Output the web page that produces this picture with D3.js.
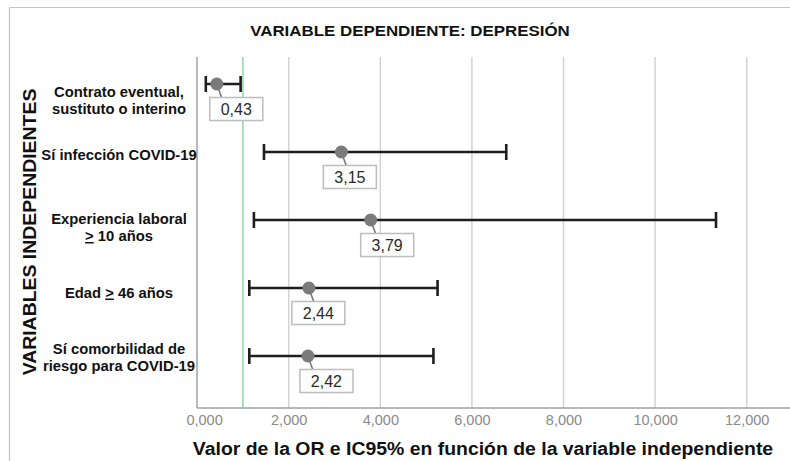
<!DOCTYPE html>
<html><head><meta charset="utf-8">
<script src="https://cdn.jsdelivr.net/npm/d3@7"></script>
<style>
html,body{margin:0;padding:0;background:#fff;}
svg{display:block;font-family:"Liberation Sans",Arial,sans-serif;}
</style></head>
<body><svg id="chart" width="790" height="461"></svg>
<script>
// ---- data ----
const categories = ["Contrato eventual, sustituto o interino","Sí infección COVID-19","Experiencia laboral ≥ 10 años","Edad ≥ 46 años","Sí comorbilidad de riesgo para COVID-19"];
const labelLines = [["Contrato eventual,","sustituto o interino"],["Sí infección COVID-19"],["Experiencia laboral","_> 10 años"],["Edad _> 46 años"],["Sí comorbilidad de","riesgo para COVID-19"]];
const orValues = [0.43, 3.15, 3.79, 2.44, 2.42];
const ciLower = [0.19, 1.46, 1.24, 1.14, 1.14];
const ciUpper = [0.95, 6.75, 11.33, 5.25, 5.16];
const xTicks = [0, 2, 4, 6, 8, 10, 12];
const refValue = 1;
const title = "VARIABLE DEPENDIENTE: DEPRESIÓN";
const xTitle = "Valor de la OR e IC95% en función de la variable independiente";
const yTitle = "VARIABLES INDEPENDIENTES";
// layout nudges (pixels)
const labelShift = [16, 2, 7, 4, 1];
const boxNudge = [-7, -18, -10, -17, -8];

const svg = d3.select("#chart");
const plot = {left:197, right:790, top:57, bottom:408};
const x = d3.scaleLinear().domain([0,12]).range([197.1, 746.7]);
const y = d3.scalePoint().domain(categories).range([84, 356]);
const loc = d3.formatLocale({decimal:",", thousands:".", grouping:[3], currency:["",""]});
const fmtTick = loc.format(".3f");
const fmtVal = loc.format(".2f");

// outer frame
svg.append("path").attr("d", `M9.5,461 V7.5 H790`).attr("fill","none").attr("stroke","#c4c4c4").attr("stroke-width",1.2);

// title
svg.append("text").attr("transform","translate(410,36) scale(1.09,1)").attr("text-anchor","middle")
  .attr("font-size",15.5).attr("font-weight","bold").attr("fill","#111").text(title);

// gridlines
svg.append("g").selectAll("line").data(xTicks.filter(d=>d>0)).join("line")
  .attr("x1",d=>x(d)).attr("x2",d=>x(d)).attr("y1",plot.top).attr("y2",plot.bottom)
  .attr("stroke","#d3d3d3").attr("stroke-width",1.5);

// reference line at OR=1
svg.append("line").attr("x1",x(refValue)).attr("x2",x(refValue)).attr("y1",plot.top).attr("y2",plot.bottom)
  .attr("stroke","#93d6a3").attr("stroke-width",1.5);

// axes
const xAxis = svg.append("g").attr("transform",`translate(0,${plot.bottom})`)
  .call(d3.axisBottom(x).tickValues(xTicks).tickFormat(fmtTick).tickSize(0).tickPadding(7));
xAxis.select(".domain").remove();
xAxis.selectAll("text").attr("font-size",14.5).attr("fill","#8a8a8a").attr("font-family","Liberation Sans, Arial, sans-serif")
  .attr("dx",(d,i)=> i===0 ? 7 : 0);
svg.append("line").attr("x1",plot.left).attr("x2",plot.right).attr("y1",plot.bottom).attr("y2",plot.bottom)
  .attr("stroke","#a0a0a0").attr("stroke-width",1.5);
svg.append("line").attr("x1",plot.left).attr("x2",plot.left).attr("y1",plot.top).attr("y2",plot.bottom)
  .attr("stroke","#a0a0a0").attr("stroke-width",1.5);

// category labels (centered in the label column)
const lab = svg.append("g");
const labelCx = 119, lh = 17;
categories.forEach((c,i)=>{
  const lines = labelLines[i];
  const cy = y(c) + labelShift[i];
  lines.forEach((ln,j)=>{
    const yy = cy + (j - (lines.length-1)/2)*lh + 5.5;
    const t = lab.append("text").attr("text-anchor","middle").attr("font-size",14.8).attr("font-weight","bold").attr("fill","#111")
      .attr("x",labelCx).attr("y",yy);
    if (ln.includes("_>")) {
      const parts = ln.split("_>");
      t.append("tspan").text(parts[0]);
      t.append("tspan").attr("text-decoration","underline").text(">");
      t.append("tspan").text(parts[1]);
    } else {
      t.text(ln);
    }
  });
});

// y title
svg.append("text").attr("transform","translate(36,232) rotate(-90) scale(1.08,1)").attr("text-anchor","middle")
  .attr("font-size",18).attr("font-weight","bold").attr("fill","#111").text(yTitle);

// x title
svg.append("text").attr("transform","translate(483,455) scale(1.05,1)").attr("text-anchor","middle")
  .attr("font-size",18.5).attr("font-weight","bold").attr("fill","#111").text(xTitle);

// error bars
const rows = categories.map((c,i)=>({c, or:orValues[i], lo:ciLower[i], hi:ciUpper[i], i}));
const eb = svg.append("g").attr("stroke","#1e1e1e").attr("stroke-width",2.6);
eb.selectAll("line.bar").data(rows).join("line").attr("class","bar")
  .attr("x1",d=>x(d.lo)).attr("x2",d=>x(d.hi)).attr("y1",d=>y(d.c)).attr("y2",d=>y(d.c));
eb.selectAll("line.capl").data(rows).join("line").attr("class","capl")
  .attr("x1",d=>x(d.lo)).attr("x2",d=>x(d.lo)).attr("y1",d=>y(d.c)-8).attr("y2",d=>y(d.c)+8);
eb.selectAll("line.caph").data(rows).join("line").attr("class","caph")
  .attr("x1",d=>x(d.hi)).attr("x2",d=>x(d.hi)).attr("y1",d=>y(d.c)-8).attr("y2",d=>y(d.c)+8);

// leader lines
svg.append("g").selectAll("line").data(rows).join("line")
  .attr("x1",d=>x(d.or)).attr("y1",d=>y(d.c)).attr("x2",d=>x(d.or)+5).attr("y2",d=>y(d.c)+14)
  .attr("stroke","#7a7a7a").attr("stroke-width",1.6);

// points
svg.append("g").selectAll("circle").data(rows).join("circle")
  .attr("cx",d=>x(d.or)).attr("cy",d=>y(d.c)).attr("r",6.5).attr("fill","#7b7b7b");

// value labels
const vl = svg.append("g").selectAll("g").data(rows).join("g")
  .attr("transform",d=>`translate(${x(d.or)+boxNudge[d.i]},${y(d.c)+13.5})`);
vl.append("rect").attr("width",53).attr("height",23).attr("fill","#fff").attr("stroke","#bdbdbd").attr("stroke-width",1.5);
vl.append("text").attr("x",26.5).attr("y",17.5).attr("text-anchor","middle").attr("font-size",16).attr("fill","#2a2a2a")
  .text(d=>fmtVal(d.or));
</script></body></html>
